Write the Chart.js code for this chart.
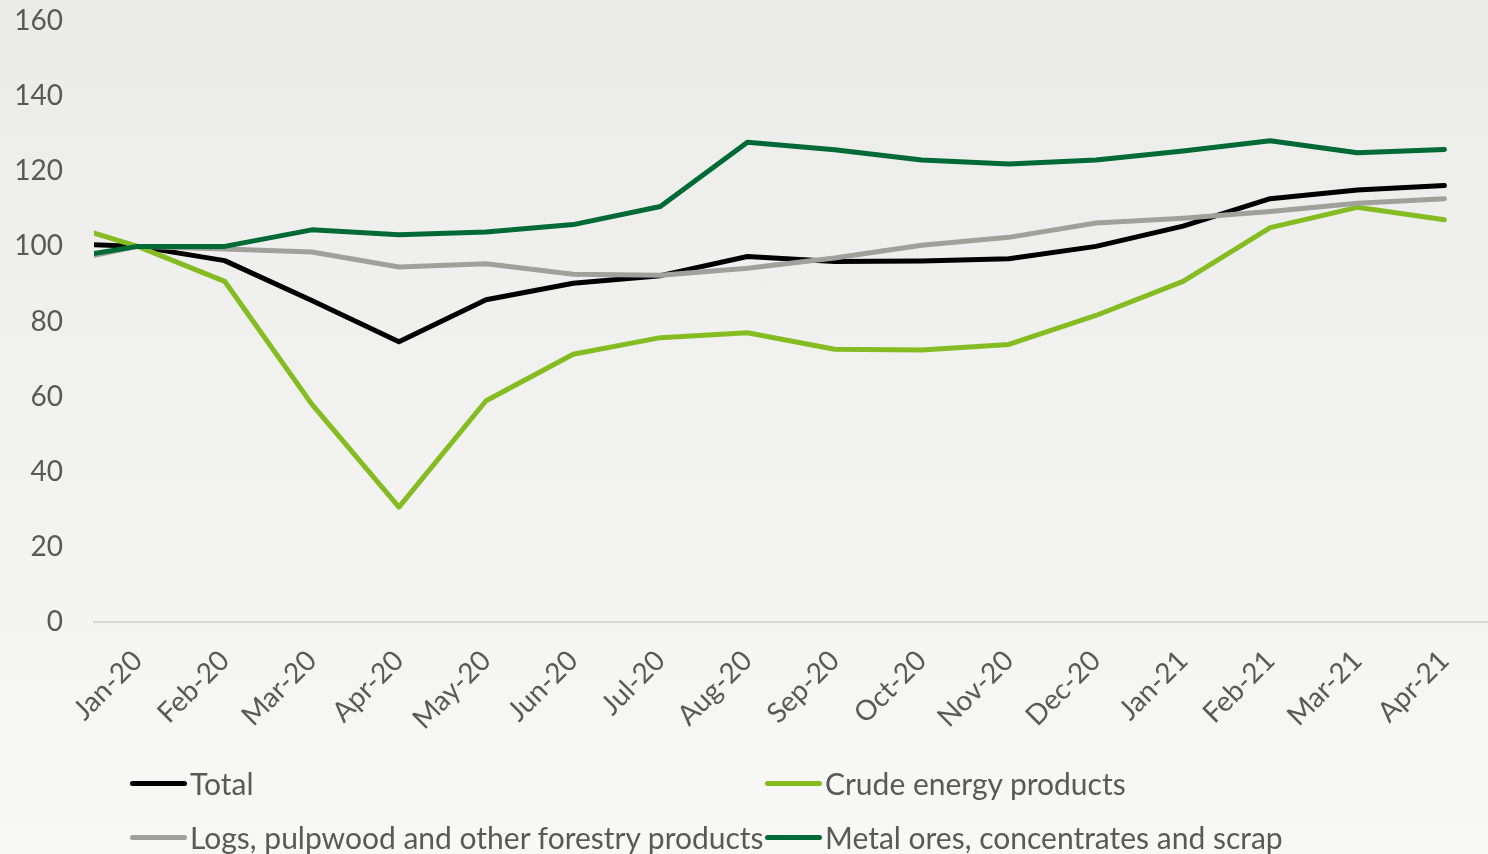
<!DOCTYPE html>
<html>
<head>
<meta charset="utf-8">
<title>Price index by product group</title>
<script src="https://cdn.jsdelivr.net/npm/chart.js@4.4.1/dist/chart.umd.min.js"></script>
<style>
  body { margin: 0; }
  #wrap {
    position: relative; width: 1488px; height: 854px; overflow: hidden;
    background: linear-gradient(#ebebe9, #f8f8f7);
  }
  #legend {
    position: absolute; left: 130px; top: 756px;
    display: grid; grid-template-columns: 635px auto; grid-auto-rows: 54px;
    font-family: Lato, sans-serif; font-size: 30px; color: #595959;
  }
  .item { display: flex; align-items: center; white-space: nowrap; }
  .swatch { width: 57px; height: 5px; border-radius: 3px; margin-right: 3px; }
</style>
</head>
<body>
<div id="wrap">
  <canvas id="myChart"></canvas>
  <div id="legend"></div>
</div>
<script>
// Dec-19 sits just left of the plot, only its segment into Jan-20 shows
var months = ['Dec-19', 'Jan-20', 'Feb-20', 'Mar-20', 'Apr-20', 'May-20', 'Jun-20', 'Jul-20', 'Aug-20',
  'Sep-20', 'Oct-20', 'Nov-20', 'Dec-20', 'Jan-21', 'Feb-21', 'Mar-21', 'Apr-21'];
var total  = [100.8, 100, 96.2, 85.6, 74.6, 85.8, 90.2, 92.2, 97.3, 96.0, 96.1, 96.7, 100.0, 105.4, 112.7, 115.0, 116.2];
var crude  = [107.0, 100, 90.7, 58.0, 30.6, 58.9, 71.3, 75.7, 77.0, 72.6, 72.4, 73.9, 81.6, 90.7, 105.0, 110.4, 107.1];
var logs   = [95.2, 100, 99.3, 98.5, 94.5, 95.4, 92.6, 92.3, 94.2, 96.9, 100.3, 102.4, 106.2, 107.5, 109.3, 111.5, 112.7];
var metals = [96.2, 100, 100, 104.4, 103.1, 103.8, 105.8, 110.6, 127.7, 125.7, 123.0, 121.9, 123.0, 125.4, 128.1, 124.9, 125.8];
var yTicks = [0, 20, 40, 60, 80, 100, 120, 140, 160];

var names  = ['Total', 'Crude energy products', 'Logs, pulpwood and other forestry products', 'Metal ores, concentrates and scrap'];
var colors = ['#000000', '#84bc22', '#a0a09c', '#006a37'];
var series = [total, crude, logs, metals];

function toPoints(arr) {
  return arr.map(function (v, i) { return { x: i, y: v }; });
}

var datasets = [];
for (var i = 0; i < series.length; i++) {
  datasets.push({
    label: names[i],
    data: toPoints(series[i]),
    borderColor: colors[i],
    backgroundColor: colors[i],
    borderWidth: 5,
    pointRadius: 0,
    tension: 0,
    fill: false,
    clip: 0,
    borderCapStyle: 'round',
    borderJoinStyle: 'round',
    order: series.length - i   // later series drawn on top
  });
}

Chart.defaults.font.family = 'Lato, sans-serif';
Chart.defaults.color = '#595959';

var ctx = document.getElementById('myChart').getContext('2d');
var myChart = new Chart(ctx, {
  type: 'line',
  data: { datasets: datasets },
  options: {
    responsive: true,
    maintainAspectRatio: false,
    animation: false,
    layout: { padding: { top: 21, left: 0, right: 0, bottom: 122 } },
    plugins: { legend: { display: false }, tooltip: { enabled: false } },
    scales: {
      x: {
        type: 'linear',
        min: 0.5,
        max: 16.5,
        grid: { display: false, drawTicks: false },
        border: { display: true, color: '#d9d9d9', width: 2 },
        ticks: {
          autoSkip: false,
          minRotation: 45,
          maxRotation: 45,
          padding: 22,
          font: { size: 28 },
          callback: function (value) { return months[value]; }
        },
        afterBuildTicks: function (scale) {
          scale.ticks = months.slice(1).map(function (m, i) { return { value: i + 1 }; });
        },
        afterFit: function (scale) {
          scale.height = 110;
          scale.paddingLeft = 0;
          scale.paddingRight = 0;
        }
      },
      y: {
        min: 0,
        max: 160,
        grid: { display: false, drawTicks: false },
        border: { display: false },
        ticks: { padding: 31, font: { size: 28 } },
        afterBuildTicks: function (scale) {
          scale.ticks = yTicks.map(function (v) { return { value: v }; });
        },
        afterFit: function (scale) {
          scale.width = 94;
          scale.paddingTop = 0;
          scale.paddingBottom = 0;
        }
      }
    }
  }
});

// legend in two fixed columns below the plot
var legend = document.getElementById('legend');
myChart.data.datasets.forEach(function (ds) {
  var item = document.createElement('div');
  item.className = 'item';
  var sw = document.createElement('span');
  sw.className = 'swatch';
  sw.style.background = ds.borderColor;
  var txt = document.createElement('span');
  txt.textContent = ds.label;
  item.appendChild(sw);
  item.appendChild(txt);
  legend.appendChild(item);
});
</script>
</body>
</html>
